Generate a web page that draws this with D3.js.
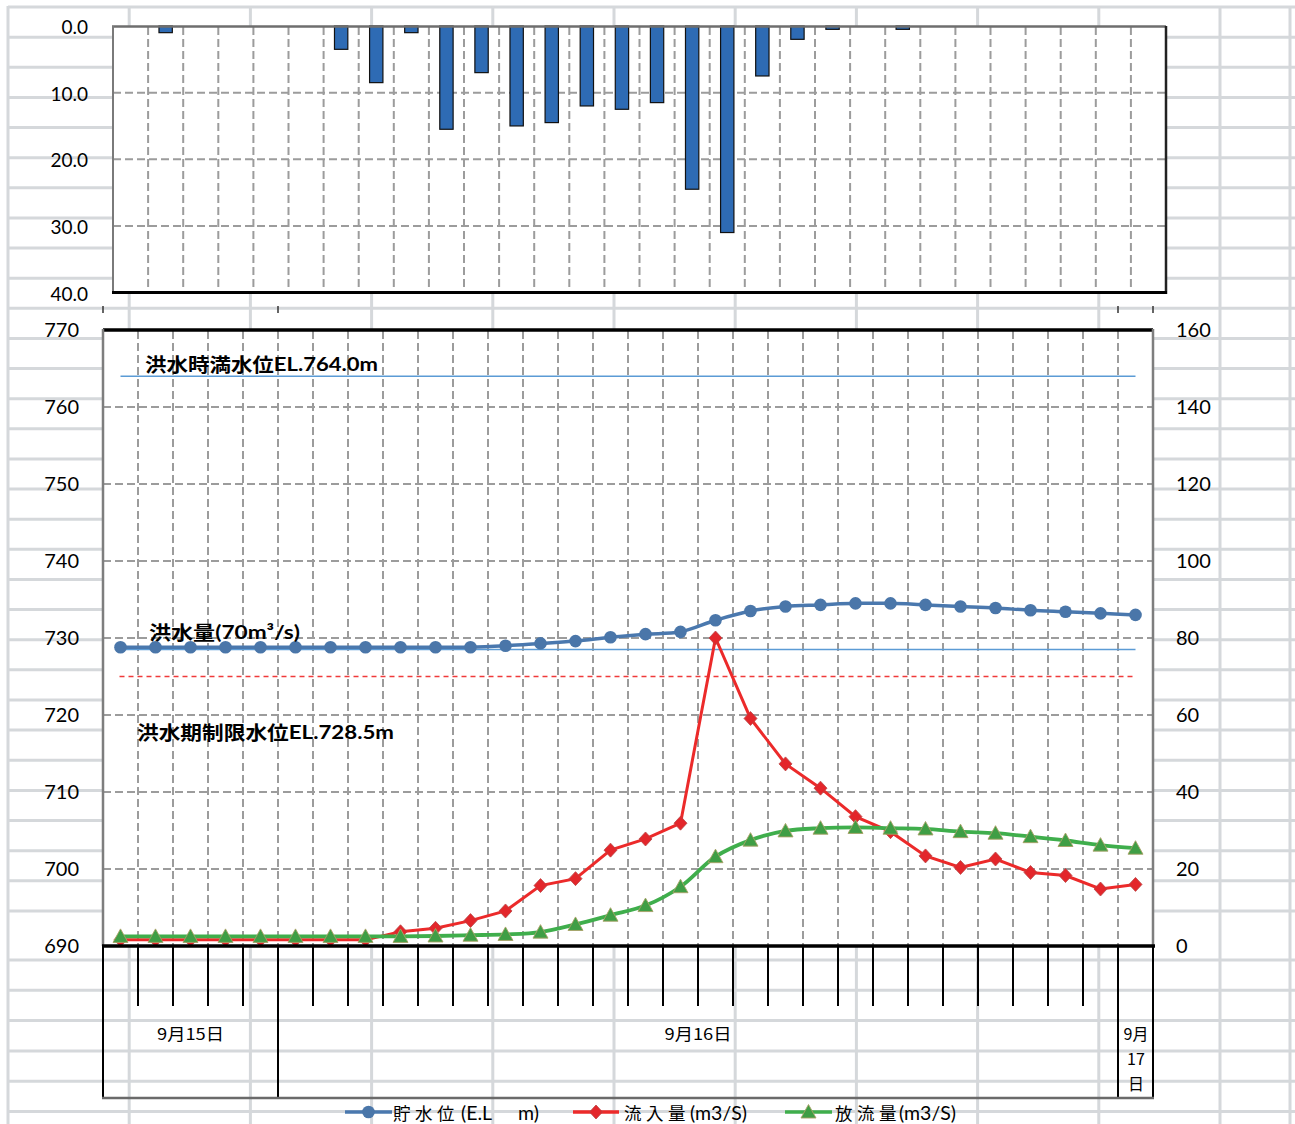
<!DOCTYPE html>
<html><head><meta charset="utf-8">
<script src="https://cdn.jsdelivr.net/npm/d3@7"></script>
<style>
html,body{margin:0;padding:0;background:#fff;}
svg{display:block;}
</style></head>
<body>
<svg id="chart" width="1295" height="1124"></svg>
<script>
// ---------- data ----------
const hours = ["19","20","21","22","23","0","1","2","3","4","5","6","7","8","9","10","11","12","13","14","15","16","17","18","19","20","21","22","23","0"];
const dayLabels = ["9月15日", "9月16日", "9月17日"];
const daySpans = [5, 24, 1];

const rainfall = [0, 1.0, 0, 0, 0, 0, 3.5, 8.5, 1.0, 15.5, 7.0, 15.0, 14.5, 12.0, 12.5, 11.5, 24.5, 31.0, 7.5, 2.0, 0.5, 0, 0.5, 0, 0, 0, 0, 0, 0, 0];
const waterLevel = [728.8, 728.8, 728.8, 728.8, 728.8, 728.8, 728.8, 728.8, 728.8, 728.8, 728.8, 729.0, 729.3, 729.6, 730.1, 730.5, 730.8, 732.3, 733.5, 734.1, 734.3, 734.5, 734.5, 734.3, 734.1, 733.9, 733.6, 733.4, 733.2, 733.0];
const inflow = [1.6, 1.6, 1.6, 1.6, 1.6, 1.6, 1.6, 1.6, 3.7, 4.6, 6.6, 9.1, 15.7, 17.5, 24.9, 27.8, 31.9, 80.0, 59.1, 47.3, 41.0, 33.6, 29.7, 23.4, 20.4, 22.6, 19.1, 18.3, 14.8, 16.0];
const outflow = [2.5, 2.5, 2.5, 2.5, 2.5, 2.5, 2.5, 2.5, 2.5, 2.6, 2.8, 3.0, 3.6, 5.6, 8.0, 10.5, 15.4, 23.2, 27.5, 29.9, 30.6, 30.8, 30.6, 30.4, 29.7, 29.3, 28.4, 27.4, 26.2, 25.4];

const fullLevel = 764.0;      // 洪水時満水位
const limitLevel = 728.5;     // 洪水期制限水位
const floodFlow = 70;         // 洪水量

const rainTicks = [0, 10, 20, 30, 40];
const levelTicks = [690, 700, 710, 720, 730, 740, 750, 760, 770];
const flowTicks = [0, 20, 40, 60, 80, 100, 120, 140, 160];

const legendLabels = ["貯水位", "流入量", "放流量"];

// ---------- setup ----------
const svg = d3.select("#chart");
const NUM = "Lato, 'Noto Sans', sans-serif";
const CJK = "'Noto Sans CJK JP', 'Noto Sans', sans-serif";
const idx = d3.range(hours.length);

// Excel sheet grid background
const bg = svg.append("g");
const rowYs = d3.range(31).map(i => 7 + i * 30.13).concat(d3.range(6).map(i => 960 + i * 30.3));
const colXs = d3.range(11).map(i => 8 + i * 121.2).concat([1290]);
bg.selectAll("line.r").data(rowYs).join("line").attr("class", "r")
  .attr("x1", 8).attr("x2", 1295).attr("y1", d => d).attr("y2", d => d)
  .attr("stroke", "#d5d8db").attr("stroke-width", 3);
bg.selectAll("line.c").data(colXs).join("line").attr("class", "c")
  .attr("x1", d => d).attr("x2", d => d).attr("y1", 6).attr("y2", 1124)
  .attr("stroke", "#d5d8db").attr("stroke-width", 3);

const gridStyle = s => s.attr("stroke", "#9c9c9c").attr("stroke-width", 2).attr("stroke-dasharray", "8,4");

// ---------- top chart (rainfall) ----------
const xTop = d3.scaleBand().domain(idx).range([113, 1166]);
const yTop = d3.scaleLinear().domain([0, 40]).range([26, 292.5]);
const topG = svg.append("g");
topG.append("rect").attr("x", 113).attr("y", 26).attr("width", 1053).attr("height", 266.5).attr("fill", "#fff");
topG.selectAll("line.hg").data(rainTicks.slice(1, -1)).join("line").attr("class", "hg")
  .attr("x1", 113).attr("x2", 1166).attr("y1", d => yTop(d)).attr("y2", d => yTop(d)).call(gridStyle);
topG.selectAll("line.vg").data(idx.slice(1)).join("line").attr("class", "vg")
  .attr("x1", d => xTop(d)).attr("x2", d => xTop(d)).attr("y1", 27).attr("y2", 292).call(gridStyle);
const barW = xTop.bandwidth() * 0.38;
topG.selectAll("rect.bar").data(rainfall.map((v, i) => ({v, i})).filter(d => d.v > 0)).join("rect").attr("class", "bar")
  .attr("x", d => xTop(d.i) + xTop.bandwidth() / 2 - barW / 2)
  .attr("y", yTop(0))
  .attr("width", barW)
  .attr("height", d => yTop(d.v) - yTop(0))
  .attr("fill", "#2e6bb4").attr("stroke", "#111").attr("stroke-width", 1.2);
// frame
topG.append("line").attr("x1", 112).attr("x2", 1166).attr("y1", 26.5).attr("y2", 26.5).attr("stroke", "#6e6e6e").attr("stroke-width", 2.5);
topG.append("line").attr("x1", 113).attr("x2", 113).attr("y1", 26).attr("y2", 293).attr("stroke", "#7a7a7a").attr("stroke-width", 2);
topG.append("line").attr("x1", 1166).attr("x2", 1166).attr("y1", 26).attr("y2", 294).attr("stroke", "#222").attr("stroke-width", 2.5);
topG.append("line").attr("x1", 112).attr("x2", 1167).attr("y1", 292.5).attr("y2", 292.5).attr("stroke", "#000").attr("stroke-width", 3);
// y axis labels
const topAxis = topG.append("g").attr("transform", "translate(88,1.5)")
  .call(d3.axisLeft(yTop).tickValues(rainTicks).tickFormat(d3.format(".1f")).tickSize(0).tickPadding(0));
topAxis.select(".domain").remove();
topAxis.selectAll("text").attr("font-family", NUM).attr("font-size", 19).attr("fill", "#000");

// ---------- lower chart ----------
const xBot = d3.scaleBand().domain(idx).range([103, 1153]);
const cx = i => xBot(i) + xBot.bandwidth() / 2;
const yL = d3.scaleLinear().domain([690, 770]).range([946, 330]);
const yR = d3.scaleLinear().domain([0, 160]).range([946, 330]);

// little marks above the lower chart at day boundaries
const dayEdges = [0];
daySpans.forEach((s, k) => dayEdges.push(dayEdges[k] + s));
const edgeX = k => k < 30 ? xBot(k) : 1153;
svg.selectAll("line.mk").data(dayEdges).join("line").attr("class", "mk")
  .attr("x1", d => edgeX(d)).attr("x2", d => edgeX(d))
  .attr("y1", 306).attr("y2", 313).attr("stroke", "#333").attr("stroke-width", 1.5);

const bot = svg.append("g");
bot.append("rect").attr("x", 103).attr("y", 330).attr("width", 1050).attr("height", 616).attr("fill", "#fff");
bot.selectAll("line.hg").data(levelTicks.slice(1, -1)).join("line").attr("class", "hg")
  .attr("x1", 103).attr("x2", 1153).attr("y1", d => yL(d)).attr("y2", d => yL(d)).call(gridStyle);
bot.selectAll("line.vg").data(idx.slice(1)).join("line").attr("class", "vg")
  .attr("x1", d => xBot(d)).attr("x2", d => xBot(d)).attr("y1", 331).attr("y2", 945).call(gridStyle);

// reference lines (constant series)
const first = cx(0), last = cx(idx.length - 1);
bot.append("line").attr("x1", first).attr("x2", last).attr("y1", yL(fullLevel)).attr("y2", yL(fullLevel))
  .attr("stroke", "#5b9bd5").attr("stroke-width", 1.6);
bot.append("line").attr("x1", first).attr("x2", last).attr("y1", yL(limitLevel)).attr("y2", yL(limitLevel))
  .attr("stroke", "#5b9bd5").attr("stroke-width", 1.6);
bot.append("line").attr("x1", first - 1).attr("x2", last).attr("y1", yR(floodFlow)).attr("y2", yR(floodFlow))
  .attr("stroke", "#f03a3a").attr("stroke-width", 1.6).attr("stroke-dasharray", "5,4");

// series
const lineL = d3.line().x((d, i) => cx(i)).y(d => yL(d)).curve(d3.curveCatmullRom);
const lineRstraight = d3.line().x((d, i) => cx(i)).y(d => yR(d));
const lineRsmooth = d3.line().x((d, i) => cx(i)).y(d => yR(d)).curve(d3.curveCatmullRom);

bot.append("path").attr("d", lineL(waterLevel)).attr("fill", "none").attr("stroke", "#4a78ae").attr("stroke-width", 3.5);
bot.selectAll("circle.wl").data(waterLevel).join("circle").attr("class", "wl")
  .attr("cx", (d, i) => cx(i)).attr("cy", d => yL(d)).attr("r", 6.3).attr("fill", "#4a76a9");

bot.append("path").attr("d", lineRstraight(inflow)).attr("fill", "none").attr("stroke", "#ec2a2a").attr("stroke-width", 3);
const diamond = "M0,-7L6.5,0L0,7L-6.5,0Z";
bot.selectAll("path.in").data(inflow).join("path").attr("class", "in")
  .attr("d", diamond).attr("transform", (d, i) => `translate(${cx(i)},${yR(d)})`)
  .attr("fill", "#e3262b").attr("stroke", "#b94545").attr("stroke-width", 0.8);

bot.append("path").attr("d", lineRsmooth(outflow)).attr("fill", "none").attr("stroke", "#3fae4c").attr("stroke-width", 3.8);
const tri = "M0,-7.5L7.5,6L-7.5,6Z";
bot.selectAll("path.out").data(outflow).join("path").attr("class", "out")
  .attr("d", tri).attr("transform", (d, i) => `translate(${cx(i)},${yR(d)})`)
  .attr("fill", "#3f9e45").attr("stroke", "#a7a065").attr("stroke-width", 0.9);

// frame
bot.append("line").attr("x1", 103).attr("x2", 1153).attr("y1", 330).attr("y2", 330).attr("stroke", "#000").attr("stroke-width", 3.5);
bot.append("line").attr("x1", 103).attr("x2", 103).attr("y1", 329).attr("y2", 946).attr("stroke", "#7e7e7e").attr("stroke-width", 2.5);
bot.append("line").attr("x1", 1153).attr("x2", 1153).attr("y1", 329).attr("y2", 946).attr("stroke", "#7e7e7e").attr("stroke-width", 2.5);

// annotations
function annot(x, y, cjk, latin, w) {
  const t = bot.append("text").attr("x", x).attr("y", y).attr("dominant-baseline", "central")
    .attr("font-family", CJK).attr("font-weight", "bold").attr("font-size", 19).attr("fill", "#000")
    .attr("textLength", w).attr("lengthAdjust", "spacingAndGlyphs");
  t.append("tspan").text(cjk);
  t.append("tspan").attr("font-family", NUM).attr("font-size", 19.5).text(latin);
}
annot(145, 363, "洪水時満水位", "EL." + fullLevel.toFixed(1) + "m", 233);
annot(149, 631, "洪水量", "(" + floodFlow + "m³/s)", 151);
annot(137, 731, "洪水期制限水位", "EL." + limitLevel.toFixed(1) + "m", 257);

// left / right axis labels
const axL = bot.append("g").attr("transform", "translate(79,0)")
  .call(d3.axisLeft(yL).tickValues(levelTicks).tickSize(0).tickPadding(0));
axL.select(".domain").remove();
axL.selectAll("text").attr("font-family", NUM).attr("font-size", 20).attr("fill", "#000");
const axR = bot.append("g").attr("transform", "translate(1176,0)")
  .call(d3.axisRight(yR).tickValues(flowTicks).tickSize(0).tickPadding(0));
axR.select(".domain").remove();
axR.selectAll("text").attr("font-family", NUM).attr("font-size", 20).attr("fill", "#000");

// category axis (multi-level)
const cat = svg.append("g");
cat.selectAll("line.tk").data(idx.slice(1).filter(k => !dayEdges.includes(k))).join("line").attr("class", "tk")
  .attr("x1", d => edgeX(d)).attr("x2", d => edgeX(d)).attr("y1", 946).attr("y2", 1006)
  .attr("stroke", "#000").attr("stroke-width", 2);
cat.selectAll("line.dk").data(dayEdges).join("line").attr("class", "dk")
  .attr("x1", d => edgeX(d)).attr("x2", d => edgeX(d)).attr("y1", 946).attr("y2", 1098)
  .attr("stroke", "#000").attr("stroke-width", 2);
cat.append("line").attr("x1", 102).attr("x2", 1154).attr("y1", 1098).attr("y2", 1098).attr("stroke", "#6a6a6a").attr("stroke-width", 2.5);
cat.append("line").attr("x1", 102).attr("x2", 1155).attr("y1", 946).attr("y2", 946).attr("stroke", "#000").attr("stroke-width", 3.5);

dayLabels.forEach((lab, k) => {
  const x0 = edgeX(dayEdges[k]), x1 = edgeX(dayEdges[k + 1]);
  const mid = (x0 + x1) / 2;
  if (daySpans[k] > 1) {
    cat.append("text").attr("x", mid).attr("y", 1033).attr("text-anchor", "middle").attr("dominant-baseline", "central")
      .attr("font-family", CJK).attr("font-size", 16).attr("fill", "#000")
      .attr("textLength", 67).attr("lengthAdjust", "spacingAndGlyphs").text(lab);
  } else {
    const parts = [lab.slice(0, 2), lab.slice(2, lab.length - 1), lab.slice(-1)];
    parts.forEach((p, j) => {
      cat.append("text").attr("x", mid + 0.5).attr("y", 1033 + j * 25).attr("text-anchor", "middle").attr("dominant-baseline", "central")
        .attr("font-family", CJK).attr("font-size", 16).attr("fill", "#000").text(p);
    });
  }
});

// legend
const leg = svg.append("g");
const legY = 1112;
const legItems = [
  {x0: 345, x1: 392, color: "#4a78ae", tx: 393, unitX: 461, unit: "(E.L", unit2: "m)", unit2X: 518},
  {x0: 573, x1: 619, color: "#ec2a2a", tx: 624, unitX: 690, unit: "(m3/S)"},
  {x0: 785, x1: 832, color: "#3fae4c", tx: 835, unitX: 899, unit: "(m3/S)"}
];
legItems.forEach((it, k) => {
  leg.append("line").attr("x1", it.x0).attr("x2", it.x1).attr("y1", legY).attr("y2", legY)
    .attr("stroke", it.color).attr("stroke-width", 3.5);
  const mx = (it.x0 + it.x1) / 2;
  if (k === 0) leg.append("circle").attr("cx", mx).attr("cy", legY).attr("r", 6.3).attr("fill", "#4a76a9");
  if (k === 1) leg.append("path").attr("d", diamond).attr("transform", `translate(${mx},${legY})`).attr("fill", "#e3262b").attr("stroke", "#b94545").attr("stroke-width", 0.8);
  if (k === 2) leg.append("path").attr("d", tri).attr("transform", `translate(${mx},${legY})`).attr("fill", "#3f9e45").attr("stroke", "#a7a065").attr("stroke-width", 0.9);
  const t = leg.append("text").attr("y", legY).attr("dominant-baseline", "central")
    .attr("font-family", CJK).attr("font-size", 17.5).attr("fill", "#000");
  // place each CJK character individually so no trailing spacing overlaps the unit text
  Array.from(legendLabels[k]).forEach((ch, j) => {
    t.append("tspan").attr("x", it.tx + j * 22).text(ch);
  });
  leg.append("text").attr("x", it.unitX).attr("y", legY).attr("dominant-baseline", "central")
    .attr("font-family", NUM).attr("font-size", 19.5).attr("fill", "#000").text(it.unit);
  if (it.unit2) leg.append("text").attr("x", it.unit2X).attr("y", legY).attr("dominant-baseline", "central")
    .attr("font-family", NUM).attr("font-size", 19.5).attr("fill", "#000").text(it.unit2);
});
</script>
</body></html>
